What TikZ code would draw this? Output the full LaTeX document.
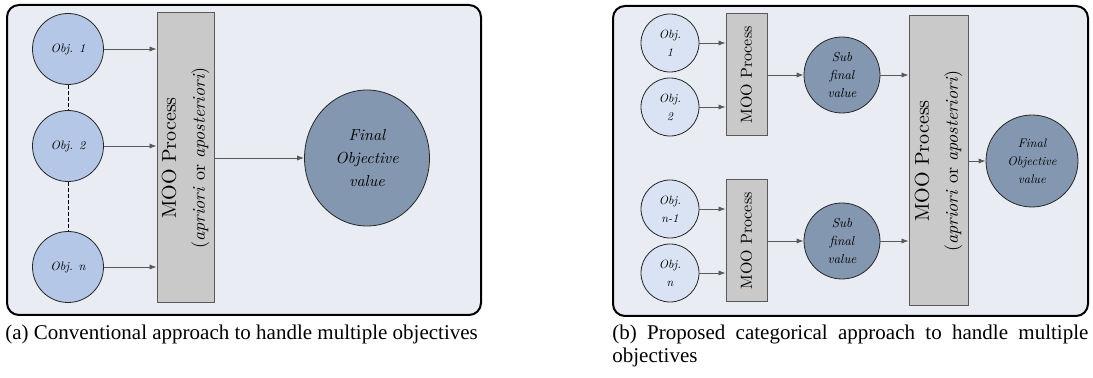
\documentclass[tikz,border=0pt]{standalone}
\usepackage{fontspec}
\usepackage{tikz}
\usetikzlibrary{arrows.meta,shapes.geometric}
\setmainfont{lmroman10}[Extension=.otf, UprightFont=*-regular, ItalicFont=*-italic, BoldFont=*-bold, BoldItalicFont=*-bolditalic]
\newfontfamily\capfont{Liberation Serif}
\definecolor{panelbg}{HTML}{E9ECF2}
\definecolor{objblue}{HTML}{B4C7E7}
\definecolor{objpale}{HTML}{DAE3F3}
\definecolor{finalblue}{HTML}{8497B0}
\definecolor{boxgray}{HTML}{C9C9C9}
\definecolor{linegray}{HTML}{595959}

\begin{document}
\begin{tikzpicture}[x=0.5pt, y=-0.5pt,
	every node/.style={inner sep=0pt},
	objA/.style={circle, draw=black!85, line width=0.4pt, fill=objblue, minimum size=35.5pt, font=\fontsize{6.1}{7}\selectfont\itshape},
	objB/.style={circle, draw=black!85, line width=0.4pt, fill=objpale, minimum size=29pt, align=center, font=\fontsize{6}{9}\selectfont\itshape},
	subB/.style={circle, draw=black!85, line width=0.4pt, fill=finalblue, minimum size=38pt, align=center, font=\fontsize{6.5}{9}\selectfont\itshape},
	finalA/.style={ellipse, draw=black!85, line width=0.4pt, fill=finalblue, minimum width=62.5pt, minimum height=68pt, align=center, font=\fontsize{8}{11.5}\selectfont\itshape},
	finalB/.style={circle, draw=black!85, line width=0.4pt, fill=finalblue, minimum size=46pt, align=center, font=\fontsize{6.2}{9}\selectfont\itshape},
	moobox/.style={rectangle, draw=linegray, fill=boxgray, line width=0.5pt},
	mootext/.style={rotate=90, align=center, font=\fontsize{10}{14.5}\selectfont},
	arr/.style={-{Latex[length=3.5pt,width=2.6pt]}, linegray, line width=0.4pt},
	panel/.style={draw=black, fill=panelbg, line width=1pt, rounded corners=6pt}]
	\useasboundingbox (0,0) rectangle (1093,378);
	\draw[panel] (7,5) rectangle (481,315);
	\draw[panel] (613,6) rectangle (1088,316);

	\node[objA] (la1) at (68,49) {Obj. 1};
	\node[objA] (la2) at (68,146) {Obj. 2};
	\node[objA] (lan) at (68,267) {Obj. n};
	\node[moobox, minimum width=28.5pt, minimum height=145pt] (lmoo) at (185.5,158) {};
	\node[mootext] (lmootxt) at (lmoo) {MOO Process\\{\fontsize{9}{14.5}\selectfont(\textit{apriori} or \textit{aposteriori})}};
	\node[finalA] (lfinal) at (367,158) {Final\\Objective\\value};
	\draw[dash pattern=on 2pt off 1pt, line width=0.5pt] (la1.south) -- (la2.north);
	\draw[dash pattern=on 2pt off 1pt, line width=0.5pt] (la2.south) -- (lan.north);
	\draw[arr] (la1.east) -- (la1 -| lmoo.west);
	\draw[arr] (la2.east) -- (la2 -| lmoo.west);
	\draw[arr] (lan.east) -- (lan -| lmoo.west);
	\draw[arr] (lmoo.east) -- (lfinal.west);

	\node[objB] (rb1) at (670,43) {Obj.\\1};
	\node[objB] (rb2) at (670,107) {Obj.\\2};
	\node[objB] (rbm) at (670,209) {Obj.\\n-1};
	\node[objB] (rbn) at (670,273) {Obj.\\n};
	\node[moobox, minimum width=20.5pt, minimum height=61pt] (rmoo1) at (746.5,75) {};
	\node[moobox, minimum width=20.5pt, minimum height=61pt] (rmoo2) at (746.5,241) {};
	\node[mootext, font=\fontsize{8}{10}\selectfont] (rmoo1txt) at (rmoo1) {MOO Process};
	\node[mootext, font=\fontsize{8}{10}\selectfont] (rmoo2txt) at (rmoo2) {MOO Process};
	\node[subB] (rsub1) at (842,75) {Sub\\final\\value};
	\node[subB] (rsub2) at (842,241) {Sub\\final\\value};
	\node[moobox, minimum width=29.5pt, minimum height=145pt] (rmoo) at (938.5,161) {};
	\node[mootext] (rmootxt) at (rmoo) {MOO Process\\{\fontsize{9}{14.5}\selectfont(\textit{apriori} or \textit{aposteriori})}};
	\node[finalB] (rfinal) at (1032,161) {Final\\Objective\\value};
	\draw[arr] (rb1.east) -- (rb1 -| rmoo1.west);
	\draw[arr] (rb2.east) -- (rb2 -| rmoo1.west);
	\draw[arr] (rbm.east) -- (rbm -| rmoo2.west);
	\draw[arr] (rbn.east) -- (rbn -| rmoo2.west);
	\draw[arr] (rmoo1.east) -- (rsub1.west);
	\draw[arr] (rmoo2.east) -- (rsub2.west);
	\draw[arr] (rsub1.east) -- (rsub1 -| rmoo.west);
	\draw[arr] (rsub2.east) -- (rsub2 -| rmoo.west);
	\draw[arr] (rmoo.east) -- (rfinal.west);

	\node[anchor=north west, font=\capfont\fontsize{10.5}{11.5}\selectfont] (capa) at (5,325) {(a) Conventional approach to handle multiple objectives};
	\node[anchor=north west, text width=238pt, align=justify, font=\capfont\fontsize{10.5}{11.5}\selectfont] (capb) at (612,325) {(b) Proposed categorical approach to handle multiple \mbox{objectives}};
\end{tikzpicture}
\end{document}
